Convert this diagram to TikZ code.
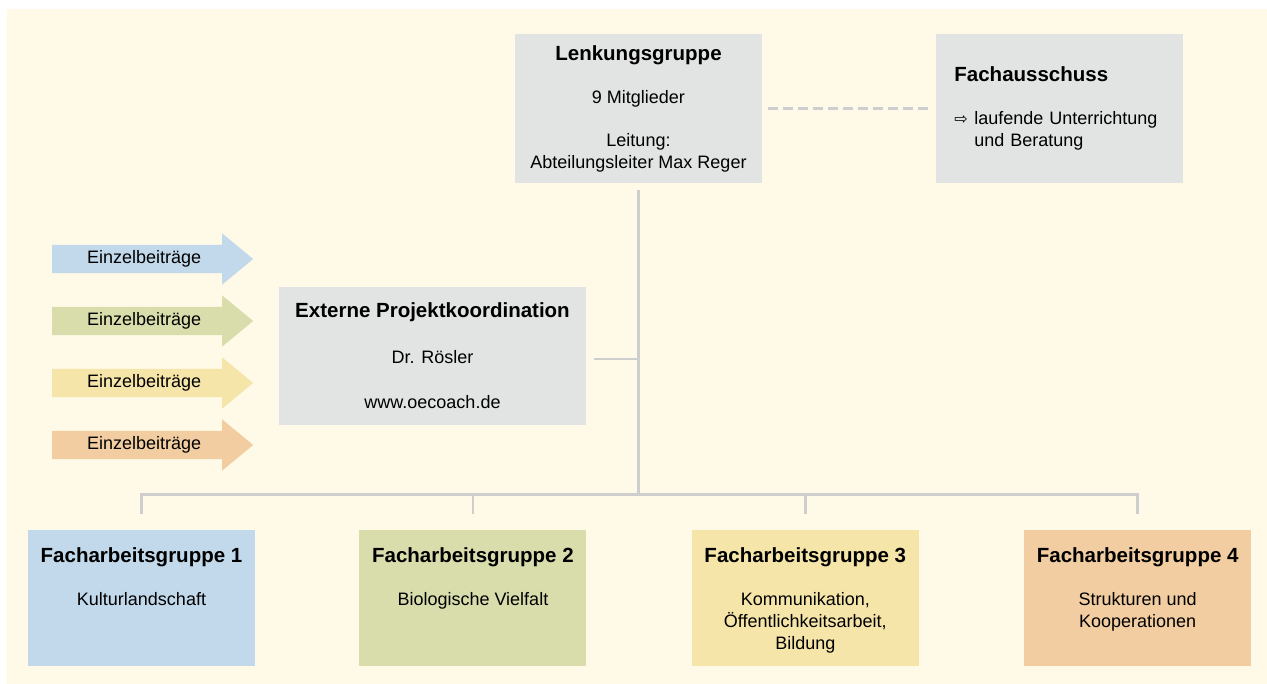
\documentclass[tikz,border=0pt]{standalone}
\usepackage{fontspec}
\setmainfont{Liberation Sans}
\newfontfamily\arrowfont{DejaVu Sans}
\usetikzlibrary{positioning,shapes.arrows}

\definecolor{bgyellow}{RGB}{255,250,231}
\definecolor{boxgrey}{RGB}{226,227,227}
\definecolor{linegrey}{RGB}{206,206,206}
\definecolor{fagblue}{RGB}{193,217,235}
\definecolor{faggreen}{RGB}{217,221,172}
\definecolor{fagyellow}{RGB}{246,229,169}
\definecolor{fagorange}{RGB}{242,205,161}

\newcommand{\boxtitle}[1]{{\bfseries\fontsize{20.5}{22}\selectfont #1}}

\begin{document}
\begin{tikzpicture}[x=1pt,y=-1pt,
    every node/.style={font=\fontsize{18}{22}\selectfont},
    greybox/.style={fill=boxgrey,minimum width=247pt,minimum height=149pt,inner sep=0pt,align=center},
    fagbox/.style={minimum width=227pt,minimum height=136pt,inner sep=0pt},
    fagtext/.style={anchor=north,inner sep=0pt,align=center,yshift=-18pt},
    einarrow/.style={single arrow,anchor=tail,minimum height=201pt,single arrow head extend=11.5pt,
                     single arrow tip angle=79,single arrow head indent=0pt,
                     text height=13pt,text depth=3pt,inner ysep=6pt,inner xsep=0pt},
    conn/.style={draw=linegrey,line width=2.7pt},
    dashline/.style={conn,dash pattern=on 10pt off 5pt}]

\useasboundingbox (0,0) rectangle (1267,684);
\fill[white] (0,0) rectangle (1267,684);
\fill[bgyellow] (7,9) rectangle (1267,684);

% leitung
\node[greybox] (lenk) at (638.5,108.5) {\boxtitle{Lenkungsgruppe}\\[21pt]9 Mitglieder\\[21pt]Leitung:\\Abteilungsleiter Max Reger};
\node[greybox,right=174pt of lenk,align=left,text width=211pt,inner xsep=18pt] (fachaus) {\boxtitle{Fachausschuss}\\[21pt]\makebox[20pt][l]{\arrowfont\fontsize{16}{16}\selectfont ⇨}laufende Unterrichtung\\\hspace*{20pt}und Beratung};
\node[fill=boxgrey,minimum width=307pt,minimum height=138pt,inner sep=0pt,align=center] (extern) at (432.5,356) {\boxtitle{Externe Projektkoordination}\\[24pt]Dr. Rösler\\[23pt]www.oecoach.de};

% einzelbeitraege
\node[einarrow,fill=fagblue] (ein1) at (52,259) {Einzelbeiträge};
\node[einarrow,fill=faggreen] (ein2) at (52,321) {Einzelbeiträge};
\node[einarrow,fill=fagyellow] (ein3) at (52,383) {Einzelbeiträge};
\node[einarrow,fill=fagorange] (ein4) at (52,445) {Einzelbeiträge};

% facharbeitsgruppen
\node[fagbox,fill=fagblue] (fag1) at (141.5,598) {};
\node[fagbox,fill=faggreen,right=104pt of fag1] (fag2) {};
\node[fagbox,fill=fagyellow,right=105pt of fag2] (fag3) {};
\node[fagbox,fill=fagorange,right=105pt of fag3] (fag4) {};
\node[fagtext] (fag1t) at (fag1.north) {\boxtitle{Facharbeitsgruppe 1}\\[21pt]Kulturlandschaft};
\node[fagtext] (fag2t) at (fag2.north) {\boxtitle{Facharbeitsgruppe 2}\\[21pt]Biologische Vielfalt};
\node[fagtext] (fag3t) at (fag3.north) {\boxtitle{Facharbeitsgruppe 3}\\[21pt]Kommunikation,\\Öffentlichkeitsarbeit,\\Bildung};
\node[fagtext] (fag4t) at (fag4.north) {\boxtitle{Facharbeitsgruppe 4}\\[21pt]Strukturen und\\Kooperationen};

% linien
\coordinate (bus) at (638.5,494.5);
\draw[dashline,shorten <=6pt,shorten >=8pt] (lenk.east) -- (fachaus.west);
\draw[conn,shorten <=7pt] (lenk.south) -- (bus);
\draw[conn,shorten <=8pt] ([yshift=-3pt]extern.east) -- ([yshift=-3pt]extern.east -| lenk.south);
\draw[conn,shorten <=16pt,shorten >=16pt] (fag1.north) -- (fag1.north |- bus) -| (fag4.north);
\draw[conn,shorten <=16pt] (fag2.north) -- (fag2.north |- bus);
\draw[conn,shorten <=16pt] (fag3.north) -- (fag3.north |- bus);

\end{tikzpicture}
\end{document}
